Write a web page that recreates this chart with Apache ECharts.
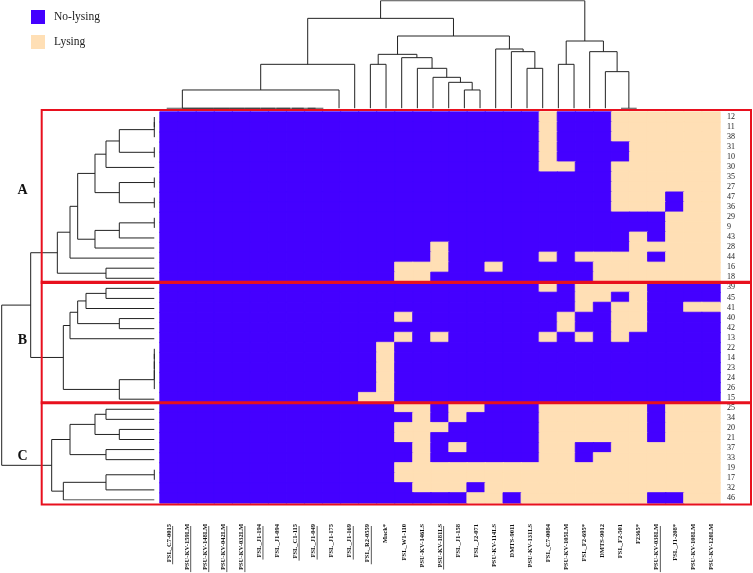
<!DOCTYPE html>
<html><head><meta charset="utf-8">
<script src="https://cdn.jsdelivr.net/npm/echarts@6/dist/echarts.min.js"></script>
<style>html,body{margin:0;padding:0;background:#fff;}#c{width:753px;height:573px;}</style>
</head><body><div id="c"></div>
<script>
// ---------- data ----------
const columns = ['FSL_C7-0015','PSU-KV-159LM','PSU-KV-148LM','PSU-KV-042LM','PSU-KV-032LM','FSL_J1-194','FSL_J1-094','FSL_C1-115','FSL_J1-049','FSL_J1-175','FSL_J1-169','FSL_R2-0559','Mack*','FSL_W1-110','PSU-KV-146LS','PSU-KV-181LS','FSL_J1-158','FSL_J2-071','PSU-KV-114LS','DMTS-9011','PSU-KV-131LS','FSL_C7-0084','PSU-KV-105LM','FSL_F2-695*','DMTS-9012','FSL_F2-501','F2365*','PSU-KV-038LM','FSL_J1-208*','PSU-KV-108LM','PSU-KV-120LM'];
const underlined = ['FSL_C7-0015','PSU-KV-159LM','PSU-KV-148LM','PSU-KV-042LM','PSU-KV-032LM','FSL_J1-194','FSL_C1-115','FSL_J1-049','FSL_J1-169','FSL_R2-0559','PSU-KV-181LS','PSU-KV-038LM'];
const rowLabels = ['12','11','38','31','10','30','35','27','47','36','29','9','43','28','44','16','18','39','45','41','40','42','13','22','14','23','24','26','15','25','34','20','21','37','33','19','17','32','46'];
// column indices showing lysing, per row (all other cells: no-lysing)
const lysingCols = [
  [21,25,26,27,28,29,30],
  [21,25,26,27,28,29,30],
  [21,25,26,27,28,29,30],
  [21,26,27,28,29,30],
  [21,26,27,28,29,30],
  [21,22,25,26,27,28,29,30],
  [25,26,27,28,29,30],
  [25,26,27,28,29,30],
  [25,26,27,29,30],
  [25,26,27,29,30],
  [28,29,30],
  [28,29,30],
  [26,28,29,30],
  [15,26,27,28,29,30],
  [15,21,23,24,25,26,28,29,30],
  [13,14,15,18,24,25,26,27,28,29,30],
  [13,14,24,25,26,27,28,29,30],
  [21,23,24,25,26],
  [23,24,26],
  [23,25,26,29,30],
  [13,22,25,26],
  [22,25,26],
  [13,15,21,23,25],
  [12],
  [12],
  [12],
  [12],
  [12],
  [11,12],
  [13,14,16,17,21,22,23,24,25,26,28,29,30],
  [14,16,21,22,23,24,25,26,28,29,30],
  [13,14,15,21,22,23,24,25,26,28,29,30],
  [13,14,21,22,23,24,25,26,28,29,30],
  [14,16,21,22,25,26,27,28,29,30],
  [14,21,22,24,25,26,27,28,29,30],
  [13,14,15,16,17,18,19,20,21,22,23,24,25,26,27,28,29,30],
  [13,14,15,16,17,18,19,20,21,22,23,24,25,26,27,28,29,30],
  [14,15,16,18,19,20,21,22,23,24,25,26,27,28,29,30],
  [17,18,20,21,22,23,24,25,26,29,30]
];
// dendrogram merges: [childA, childB, height]; leaves 0..n-1, merge k creates node n+k
const colMerges = [
  [9,10,0],[8,31,0],[7,32,0],[6,33,0],[5,34,0],[4,35,0],[3,36,0],[2,37,0],[1,38,0],[0,39,0],
  [40,11,55],[41,12,132],[13,14,132],[19,20,55],[18,44,78],[17,45,93],[16,46,120],[15,47,152],
  [43,48,162],[23,24,120],[22,50,170],[21,51,178],[49,52,217],[42,53,270],
  [25,26,132],[29,30,0],[28,56,110],[27,57,170],[55,58,202],[54,59,323]
];
const rowMerges = [
  [0,1,0],[39,2,0],[3,4,0],[40,41,105],[42,5,145],[6,7,0],[8,9,0],[44,45,105],[43,46,178],
  [10,11,0],[48,12,105],[49,13,178],[47,50,230],[51,14,253],[15,16,145],[52,53,291],
  [17,18,145],[55,19,205],[20,21,105],[56,57,230],[58,22,253],
  [23,24,0],[60,25,0],[61,26,0],[62,27,0],[63,28,105],[59,64,273],[54,65,371],
  [29,30,145],[31,32,105],[67,68,178],[33,34,145],[69,70,253],[35,36,0],[72,37,145],[73,38,273],
  [71,74,308],[66,75,458]
];
const groups = [{name:'A', first:0, last:16, labelY:190},{name:'B', first:17, last:28, labelY:340},{name:'C', first:29, last:38, labelY:456}];
const legendItems = [{value:0, label:'No-lysing'},{value:1, label:'Lysing'}];

// ---------- styles ----------
const BLUE = '#4400ff', TAN = '#ffdfb5', RED = '#e8101e';
const SERIF = "'Liberation Serif','Times New Roman',serif";

const heatData = [];
rowLabels.forEach((r, ri) => columns.forEach((c, ci) => {
  const v = lysingCols[ri].includes(ci) ? 1 : 0;
  heatData.push({ value: [ci, ri, v], itemStyle: { borderColor: v ? TAN : BLUE, borderWidth: 0.8 } });
}));

function dendroLines(merges, nLeaves, horizontal) {
  const pos = [], hgt = [];
  for (let i = 0; i < nLeaves; i++) { pos[i] = i; hgt[i] = 0; }
  const out = [];
  merges.forEach((m, k) => {
    const [a, b, h] = m, id = nLeaves + k;
    pos[id] = (pos[a] + pos[b]) / 2; hgt[id] = h;
    const pts = [[pos[a], hgt[a]], [pos[a], h], [pos[b], h], [pos[b], hgt[b]]];
    out.push({ coords: horizontal ? pts.map(p => [p[1], p[0]]) : pts });
  });
  return out;
}
const colMax = Math.max(...colMerges.map(m => m[2]));
const rowMax = Math.max(...rowMerges.map(m => m[2]));

const chart = echarts.init(document.getElementById('c'), null, { renderer: 'canvas' });
const gridH = { left: 160, top: 112, width: 560, height: 393 };
const cellH = gridH.height / rowLabels.length;
chart.setOption({
  animation: false,
  backgroundColor: '#fff',
  grid: [
    gridH,
    { left: 166.7, top: 0.7, width: 470, height: 107.6 },
    { left: 1.7, top: gridH.top + cellH / 2, width: 152.6, height: gridH.height - cellH }
  ],
  xAxis: [
    { type: 'category', gridIndex: 0, data: columns, position: 'bottom',
      axisLine: { show: false }, axisTick: { show: false }, splitLine: { show: false },
      axisLabel: { rotate: 90, interval: 0, margin: 21, fontSize: 6.5, fontWeight: 'bold', fontFamily: SERIF, color: '#111' } },
    { type: 'value', gridIndex: 1, min: 0, max: columns.length - 1, show: false },
    { type: 'value', gridIndex: 2, min: 0, max: rowMax, inverse: true, show: false }
  ],
  yAxis: [
    { type: 'category', gridIndex: 0, data: rowLabels, inverse: true, position: 'right',
      axisLine: { show: false }, axisTick: { show: false }, splitLine: { show: false },
      axisLabel: { interval: 0, margin: 7, fontSize: 8, fontFamily: SERIF, color: '#222' } },
    { type: 'value', gridIndex: 1, min: 0, max: colMax, show: false },
    { type: 'value', gridIndex: 2, min: 0, max: rowLabels.length - 1, inverse: true, show: false }
  ],
  visualMap: {
    type: 'piecewise', seriesIndex: 0, dimension: 2, orient: 'vertical', inverse: true,
    left: 31, top: 10, padding: 0, itemWidth: 14, itemHeight: 14, itemGap: 11, textGap: 9,
    itemSymbol: 'rect', selectedMode: false,
    pieces: legendItems.map(p => ({ value: p.value, label: p.label, color: p.value ? TAN : BLUE })),
    textStyle: { fontFamily: SERIF, fontSize: 11.5, color: '#222' }
  },
  series: [
    { type: 'heatmap', xAxisIndex: 0, yAxisIndex: 0, data: heatData, silent: true,
      emphasis: { disabled: true } },
    { type: 'lines', coordinateSystem: 'cartesian2d', xAxisIndex: 1, yAxisIndex: 1, polyline: true, silent: true,
      data: dendroLines(colMerges, columns.length, false), lineStyle: { color: '#222', width: 1, opacity: 1 } },
    { type: 'lines', coordinateSystem: 'cartesian2d', xAxisIndex: 2, yAxisIndex: 2, polyline: true, silent: true,
      data: dendroLines(rowMerges, rowLabels.length, true), lineStyle: { color: '#222', width: 1, opacity: 1 } }
  ]
});

// ---------- annotations: group boxes, group letters, underlines ----------
const g = [];
const rowTop = i => chart.convertToPixel({ xAxisIndex: 0, yAxisIndex: 0 }, [0, i])[1] - cellH / 2;
groups.forEach((grp, i) => {
  let y0 = rowTop(grp.first), y1 = rowTop(grp.last) + cellH;
  if (i === 0) y0 -= 2; else y0 -= 0.5;
  if (i === groups.length - 1) y1 += 1.5; else y1 += 0.5;
  g.push({ type: 'rect', z: 100, shape: { x: 41.7, y: y0, width: 751 - 41.7, height: y1 - y0 },
    style: { fill: null, stroke: RED, lineWidth: 2 } });
  g.push({ type: 'text', z: 100, x: 22.5, y: grp.labelY,
    style: { text: grp.name, font: "bold 14px " + SERIF, fill: '#111', textAlign: 'center', textVerticalAlign: 'middle' } });
});
const ctx = document.createElement('canvas').getContext('2d');
ctx.font = "bold 6.5px " + SERIF;
const labelTop = gridH.top + gridH.height + 21;
columns.forEach((c, ci) => {
  if (!underlined.includes(c)) return;
  const x = chart.convertToPixel({ xAxisIndex: 0, yAxisIndex: 0 }, [ci, 0])[0] + 3.6;
  const w = ctx.measureText(c).width;
  g.push({ type: 'line', z: 100, shape: { x1: x, y1: labelTop, x2: x, y2: labelTop + w },
    style: { stroke: '#111', lineWidth: 0.7 } });
});
chart.setOption({ graphic: g });
</script></body></html>
